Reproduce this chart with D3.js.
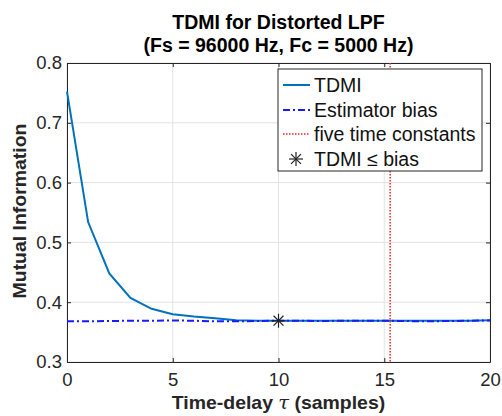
<!DOCTYPE html>
<html>
<head>
<meta charset="utf-8">
<script src="https://cdn.jsdelivr.net/npm/d3@7"></script>
<style>
  body { margin: 0; background: #fff; }
  svg { font-family: "Liberation Sans", Arial, Helvetica, sans-serif; }
</style>
</head>
<body>
<div id="chart"></div>
<script>
// time-delay samples
const delays = d3.range(0, 21);
// TDMI
const tdmi = [0.752, 0.534, 0.448, 0.407, 0.389, 0.380, 0.376, 0.373, 0.370, 0.369, 0.369,
              0.369, 0.369, 0.369, 0.369, 0.369, 0.369, 0.369, 0.369, 0.369, 0.370];
// estimator bias (dash-dot)
const bias = [0.368, 0.368, 0.3685, 0.369, 0.369, 0.3695, 0.369, 0.368, 0.368, 0.3685, 0.369,
              0.369, 0.3685, 0.369, 0.369, 0.369, 0.3685, 0.368, 0.3685, 0.369, 0.3695];
const fiveTau = 15.28;
const crossing = {x: 10, y: 0.369};
const xTicks = [0, 5, 10, 15, 20];
const yTicks = [0.3, 0.4, 0.5, 0.6, 0.7, 0.8];
const legendLabels = ["TDMI", "Estimator bias", "five time constants", "TDMI \u2264 bias"];

const W = 502, H = 416;
const margin = {top: 63, right: 12, bottom: 54, left: 67};
const width = W - margin.left - margin.right,
      height = H - margin.top - margin.bottom;

const svg = d3.select("#chart").append("svg")
  .attr("width", W).attr("height", H);

const g = svg.append("g")
  .attr("transform", "translate(" + margin.left + "," + margin.top + ")");

const x = d3.scaleLinear().domain([0, 20]).range([0, width]);
const y = d3.scaleLinear().domain([0.3, 0.8]).range([height, 0]);

// grid
g.selectAll(".gx").data(xTicks).enter().append("line")
  .attr("x1", d => x(d)).attr("x2", d => x(d))
  .attr("y1", 0).attr("y2", height)
  .attr("stroke", "#e3e3e3").attr("stroke-width", 1);
g.selectAll(".gy").data(yTicks).enter().append("line")
  .attr("x1", 0).attr("x2", width)
  .attr("y1", d => y(d)).attr("y2", d => y(d))
  .attr("stroke", "#e3e3e3").attr("stroke-width", 1);

// axes, ticks pointing in
const axisColor = "#262626";
g.append("g").attr("transform", "translate(0," + height + ")")
  .call(d3.axisBottom(x).tickValues(xTicks).tickSizeInner(-4).tickSizeOuter(0).tickPadding(11));
g.append("g")
  .call(d3.axisLeft(y).tickValues(yTicks).tickFormat(d3.format(".1f")).tickSizeInner(-4).tickSizeOuter(0).tickPadding(5));
g.append("g")
  .call(d3.axisTop(x).tickValues(xTicks).tickSizeInner(-4).tickSizeOuter(0).tickFormat(""));
g.append("g").attr("transform", "translate(" + width + ",0)")
  .call(d3.axisRight(y).tickValues(yTicks).tickSizeInner(-4).tickSizeOuter(0).tickFormat(""));

g.selectAll(".domain").attr("stroke", axisColor).attr("stroke-width", 1);
g.selectAll(".tick line").attr("stroke", axisColor);
g.selectAll(".tick text").attr("fill", axisColor).style("font-size", "18.5px");

// data lines
const line = d3.line().x((d, i) => x(delays[i])).y(d => y(d));

g.append("path").datum(tdmi)
  .attr("fill", "none").attr("stroke", "#0072BD").attr("stroke-width", 2)
  .attr("d", line);

g.append("path").datum(bias)
  .attr("fill", "none").attr("stroke", "#1a1aff").attr("stroke-width", 2)
  .attr("stroke-dasharray", "7,3,2,3")
  .attr("d", line);

g.append("line")
  .attr("x1", x(fiveTau)).attr("x2", x(fiveTau))
  .attr("y1", 0).attr("y2", height)
  .attr("stroke", "#ff2020").attr("stroke-width", 1.5)
  .attr("stroke-dasharray", "1.5,1.5");

// asterisk marker
function asterisk(sel, cx, cy, r) {
  const a = sel.append("g").attr("transform", "translate(" + cx + "," + cy + ")")
    .attr("stroke", "#222").attr("stroke-width", 1.2);
  [0, 45, 90, 135].forEach(ang => {
    const rad = ang * Math.PI / 180;
    a.append("line")
      .attr("x1", -r * Math.cos(rad)).attr("y1", -r * Math.sin(rad))
      .attr("x2", r * Math.cos(rad)).attr("y2", r * Math.sin(rad));
  });
}
asterisk(g, x(crossing.x), y(crossing.y), 7);

// legend
const lg = svg.append("g").attr("transform", "translate(278,69)");
lg.append("rect").attr("width", 204).attr("height", 102)
  .attr("fill", "#fff").attr("stroke", "#262626").attr("stroke-width", 1);
const rowY = [16, 41, 65, 90];
const styles = [
  {stroke: "#0072BD", dash: null, w: 2},
  {stroke: "#1a1aff", dash: "7,3,2,3", w: 2},
  {stroke: "#ff2020", dash: "1.5,1.5", w: 1.5}
];
styles.forEach((s, i) => {
  lg.append("line").attr("x1", 5).attr("x2", 32)
    .attr("y1", rowY[i]).attr("y2", rowY[i])
    .attr("stroke", s.stroke).attr("stroke-width", s.w)
    .attr("stroke-dasharray", s.dash);
});
asterisk(lg, 18, rowY[3], 7);
lg.selectAll(".lt").data(legendLabels).enter().append("text")
  .attr("x", 36).attr("y", (d, i) => rowY[i] + 7)
  .attr("fill", "#111").style("font-size", "19.5px")
  .text(d => d);

// titles
const cx = margin.left + width / 2;
svg.append("text").attr("x", cx).attr("y", 29).attr("text-anchor", "middle")
  .style("font-weight", "bold").style("font-size", "19.5px").attr("fill", "#000")
  .text("TDMI for Distorted LPF");
svg.append("text").attr("x", cx).attr("y", 52).attr("text-anchor", "middle")
  .style("font-weight", "bold").style("font-size", "19.5px").attr("fill", "#000")
  .text("(Fs = 96000 Hz, Fc = 5000 Hz)");

// axis labels, a bit wider than tall like the original
const xl = svg.append("text")
  .attr("transform", "translate(" + cx + ",409) scale(1.08,1)")
  .attr("text-anchor", "middle")
  .style("font-weight", "bold").style("font-size", "18px").attr("fill", "#262626");
xl.append("tspan").text("Time-delay ");
xl.append("tspan").style("font-style", "italic").style("font-weight", "normal")
  .attr("font-family", "DejaVu Serif, serif").text("\u03c4");
xl.append("tspan").text(" (samples)");

svg.append("text")
  .attr("transform", "translate(26,211) rotate(-90) scale(1.08,1)")
  .attr("text-anchor", "middle")
  .style("font-weight", "bold").style("font-size", "18px").attr("fill", "#262626")
  .text("Mutual Information");
</script>
</body>
</html>
